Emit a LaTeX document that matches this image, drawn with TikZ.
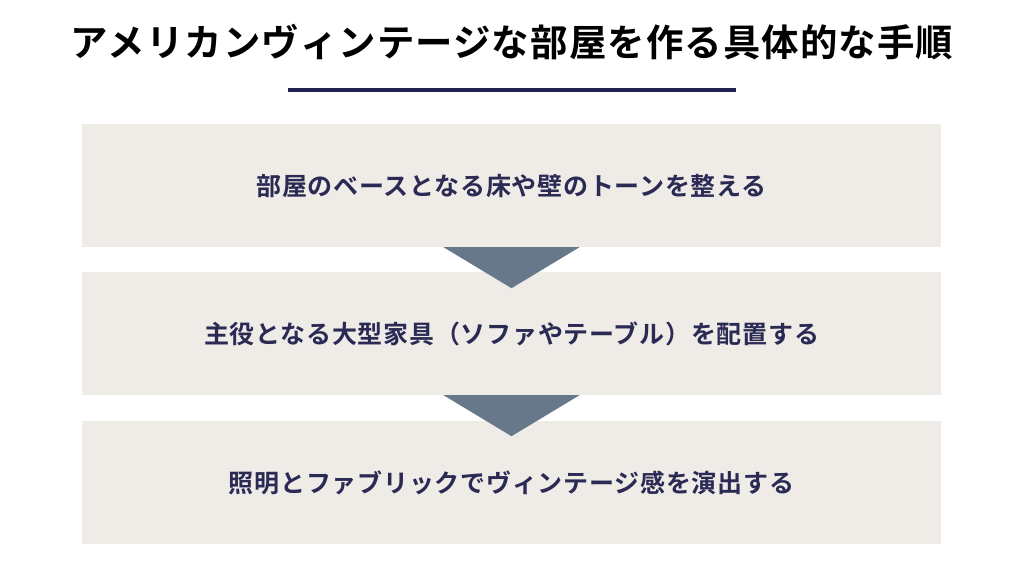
\documentclass[tikz,border=0pt]{standalone}
\usepackage{fontspec}
\setmainfont{Noto Sans CJK JP}
\newfontfamily\jpbold[LetterSpace=3]{Noto Sans CJK JP Bold}
\usepackage{tikz}

\definecolor{boxbg}{HTML}{EFECE7}
\definecolor{arrowgray}{HTML}{66788A}
\definecolor{navytext}{HTML}{2A2A55}
\definecolor{navyline}{HTML}{22224E}

\tikzset{
	stepbox/.style={fill=boxbg, draw=none, minimum width=859pt, minimum height=123pt,
		inner sep=0pt, text=navytext, font=\jpbold\fontsize{25}{30}\selectfont},
	downtri/.style={fill=arrowgray}
}

\begin{document}
\begin{tikzpicture}[x=1pt, y=-1pt]
	\useasboundingbox (0,0) rectangle (1024,576);
	\fill[white] (0,0) rectangle (1024,576);
	% title
	\node (title) at (512,42) {\jpbold\fontsize{37.4}{44}\selectfont アメリカンヴィンテージな部屋を作る具体的な手順};
	\draw[navyline, line width=4pt] (288,89.5) -- (736,89.5);
	% steps
	\node[stepbox] (s1) at (511.5,185.5) {部屋のベースとなる床や壁のトーンを整える};
	\node[stepbox] (s2) at (511.5,333.5) {主役となる大型家具（ソファやテーブル）を配置する};
	\node[stepbox] (s3) at (511.5,482.5) {照明とファブリックでヴィンテージ感を演出する};
	% arrows
	\fill[downtri] (s1.south) ++(-68,0) -- ++(136,0) -- ++(-68,41) -- cycle;
	\fill[downtri] (s2.south) ++(-68,0) -- ++(136,0) -- ++(-68,41) -- cycle;
\end{tikzpicture}
\end{document}
